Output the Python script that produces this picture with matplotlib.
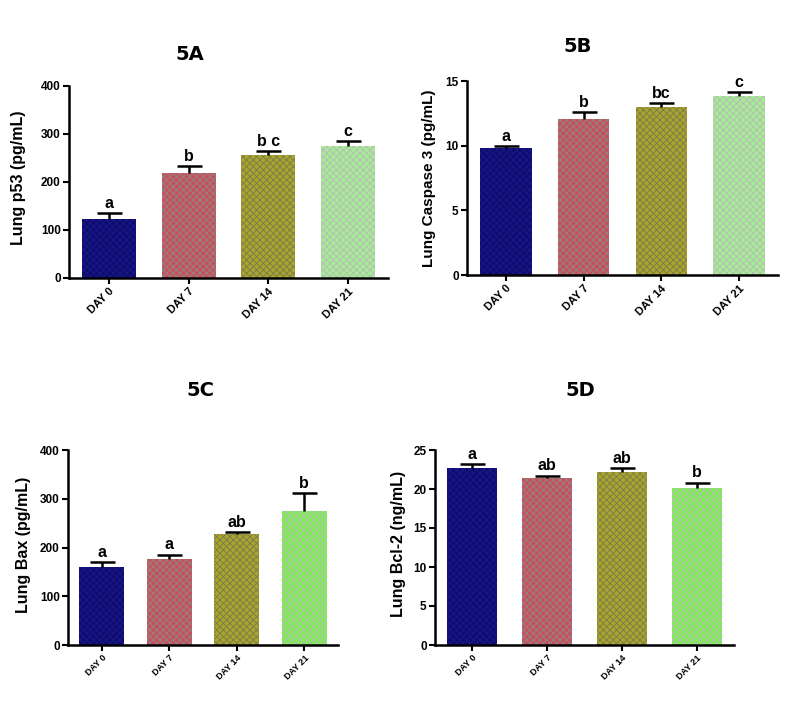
import matplotlib
matplotlib.use("Agg")
import matplotlib.pyplot as plt
import numpy as np

plt.rcParams['font.family'] = ['Liberation Sans', 'DejaVu Sans']
plt.rcParams['hatch.linewidth'] = 0.6

days = ["DAY 0", "DAY 7", "DAY 14", "DAY 21"]
colors_top = ["#0e0c70", "#c8505a", "#a8a42c", "#a6ec96"]
colors_bottom = ["#0e0c70", "#c8505a", "#a8a42c", "#7cf050"]
hatch_cols = ["#1a1a88", "#8a8a8a", "#7a7a50", "#b8b8b8"]

p53_mean = [123, 219, 256, 275]
p53_err = [12, 14, 8, 10]
p53_letters = ["a", "b", "b c", "c"]

casp_mean = [9.8, 12.07, 13.0, 13.85]
casp_err = [0.15, 0.5, 0.3, 0.3]
casp_letters = ["a", "b", "bc", "c"]

bax_mean = [160, 176, 228, 275]
bax_err = [10, 9, 4, 37]
bax_letters = ["a", "a", "ab", "b"]

bcl_mean = [22.7, 21.4, 22.2, 20.1]
bcl_err = [0.5, 0.3, 0.5, 0.7]
bcl_letters = ["a", "ab", "ab", "b"]

W, H = 790, 711
fig = plt.figure(figsize=(W / 100, H / 100), dpi=100)


def make_ax(l, r, b, t):
    return fig.add_axes([l / W, 1 - b / H, (r - l) / W, (b - t) / H])


panels = [
    dict(box=(69, 388, 278, 86), mean=p53_mean, err=p53_err, let=p53_letters,
         ylim=400, yt=[0, 100, 200, 300, 400], ylabel="Lung p53 (pg/mL)",
         title="5A", tpos=(190, 55), width=0.68, tfs=8, lbx=19, lfs=11.5,
         lby=178, cols=colors_top),
    dict(box=(467, 778, 275, 81), mean=casp_mean, err=casp_err, let=casp_letters,
         ylim=15, yt=[0, 5, 10, 15], ylabel="Lung Caspase 3 (pg/mL)",
         title="5B", tpos=(578, 46), width=0.66, tfs=8, lbx=429, lfs=11,
         lby=178, cols=colors_top),
    dict(box=(68, 338, 645, 450), mean=bax_mean, err=bax_err, let=bax_letters,
         ylim=400, yt=[0, 100, 200, 300, 400], ylabel="Lung Bax (pg/mL)",
         title="5C", tpos=(200, 390), width=0.67, tfs=6.5, lbx=24, lfs=11.5,
         lby=545, cols=colors_bottom),
    dict(box=(435, 734, 645, 450), mean=bcl_mean, err=bcl_err, let=bcl_letters,
         ylim=25, yt=[0, 5, 10, 15, 20, 25], ylabel="Lung Bcl-2 (ng/mL)",
         title="5D", tpos=(580, 390), width=0.67, tfs=6.5, lbx=399, lfs=11.5,
         lby=544, cols=colors_bottom),
]

x = np.arange(len(days))
for p in panels:
    ax = make_ax(*p["box"])
    ax.bar(x, p["mean"], width=p["width"], color=p["cols"], edgecolor="none", zorder=2)
    for i in range(len(days)):
        ax.bar(x[i], p["mean"][i], width=p["width"], color="none",
               edgecolor=hatch_cols[i], hatch="xxxxx", linewidth=0, zorder=2.5)
    eb = ax.errorbar(x, p["mean"], yerr=[np.zeros(len(days)), p["err"]], fmt="none",
                     ecolor="black", elinewidth=1.8, capsize=9, capthick=1.8, zorder=3)
    eb[1][0].set_visible(False)
    for i in range(len(days)):
        ax.text(x[i], p["mean"][i] + p["err"][i] + p["ylim"] * 0.012, p["let"][i],
                ha="center", va="bottom", fontsize=11.5, fontweight="bold", zorder=4)
    ax.set_xlim(-0.5, 3.5)
    ax.set_ylim(0, p["ylim"])
    ax.set_yticks(p["yt"])
    ax.set_xticks(x)
    ax.set_xticklabels(days, rotation=45, ha="right", rotation_mode="anchor",
                       fontsize=p["tfs"], fontweight="bold")
    for lab in ax.get_yticklabels():
        lab.set_fontsize(8.5)
        lab.set_fontweight("bold")
    for s in ["top", "right"]:
        ax.spines[s].set_visible(False)
    for s in ["left", "bottom"]:
        ax.spines[s].set_linewidth(1.8)
    ax.tick_params(axis="both", width=1.5, length=4, pad=2)
    ax.patch.set_alpha(0)
    fig.text(p["lbx"] / W, 1 - p["lby"] / H, p["ylabel"], rotation=90,
             ha="center", va="center", fontsize=p["lfs"], fontweight="bold")
    fig.text(p["tpos"][0] / W, 1 - p["tpos"][1] / H, p["title"], ha="center",
             va="center", fontsize=14, fontweight="black", family="DejaVu Sans")

fig.savefig("out.png", dpi=100, facecolor="white")
